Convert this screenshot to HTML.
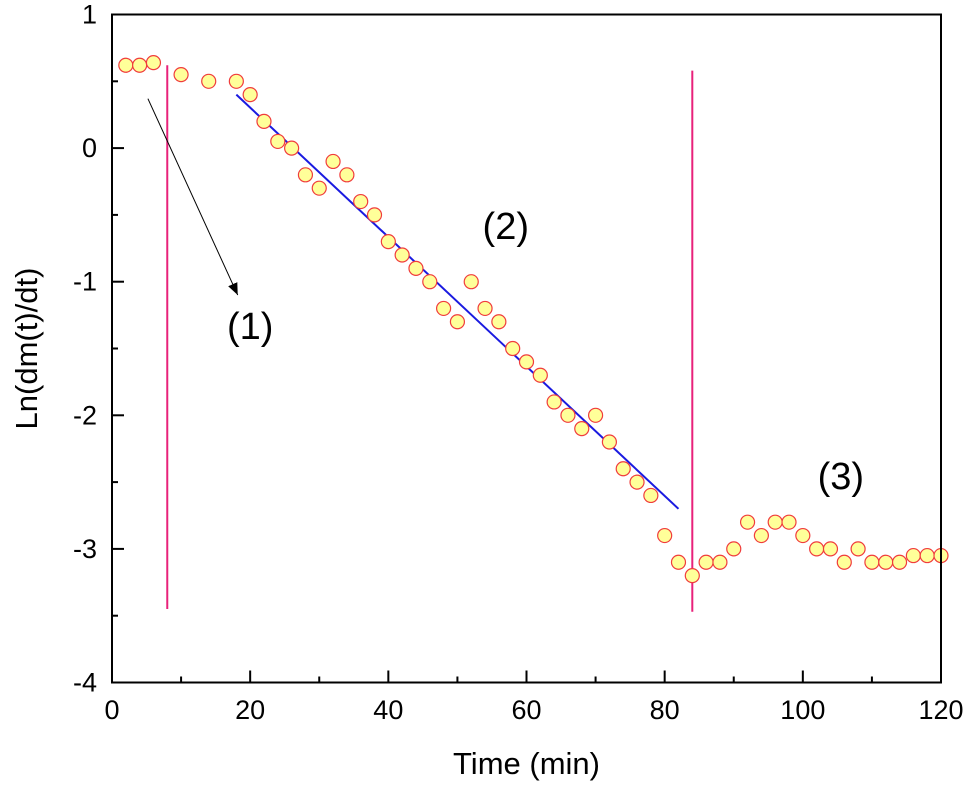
<!DOCTYPE html>
<html><head><meta charset="utf-8"><style>body{margin:0;background:#fff}svg text{font-family:"Liberation Sans",Arial,sans-serif}</style></head>
<body>
<svg id="c" width="967" height="784" viewBox="0 0 967 784"></svg>
<script>
const times=[2,4,6,10,14,18,20,22,24,26,28,30,32,34,36,38,40,42,44,46,48,50,52,54,56,58,60,62,64,66,68,70,72,74,76,78,80,82,84,86,88,90,92,94,96,98,100,102,104,106,108,110,112,114,116,118,120];
const values=[0.62,0.62,0.64,0.55,0.5,0.5,0.4,0.2,0.05,0,-0.2,-0.3,-0.1,-0.2,-0.4,-0.5,-0.7,-0.8,-0.9,-1.0,-1.2,-1.3,-1.0,-1.2,-1.3,-1.5,-1.6,-1.7,-1.9,-2.0,-2.1,-2.0,-2.2,-2.4,-2.5,-2.6,-2.9,-3.1,-3.2,-3.1,-3.1,-3.0,-2.8,-2.9,-2.8,-2.8,-2.9,-3.0,-3.0,-3.1,-3.0,-3.1,-3.1,-3.1,-3.05,-3.05,-3.05];
const xTicks=[0,20,40,60,80,100,120];
const yTicks=[1,0,-1,-2,-3,-4];
const fitLine=[[18,0.4],[82,-2.7]];
const dividers=[[8,0.62,-3.45],[84,0.58,-3.47]];
const arrow=[[5.2,0.37],[18.2,-1.1]];
const regionLabels=[["(1)",20,-1.43],["(2)",57,-0.68],["(3)",105.5,-2.55]];
const X0=112,X1=941,Y0=14.5,Y1=682.5;
const sx=v=>X0+(v-0)/120*(X1-X0);
const sy=v=>Y0+(1-v)/5*(Y1-Y0);
const svg=document.getElementById('c');const NS='http://www.w3.org/2000/svg';
function mk(t,a,p){const e=document.createElementNS(NS,t);for(const k in a)e.setAttribute(k,a[k]);(p||svg).appendChild(e);return e;}
const defs=mk('defs',{});
const mkr=mk('marker',{id:'ah',markerWidth:12,markerHeight:10,refX:12,refY:5,orient:'auto',markerUnits:'userSpaceOnUse'},defs);
mk('path',{d:'M0,0 L12,5 L0,10 Z',fill:'#000'},mkr);
dividers.forEach(d=>{const l=mk('line',{x1:sx(d[0]),x2:sx(d[0]),y1:sy(d[1]),y2:sy(d[2]),stroke:'#e8217a','stroke-width':2});

});
const fl=mk('line',{x1:sx(fitLine[0][0]),y1:sy(fitLine[0][1]),x2:sx(fitLine[1][0]),y2:sy(fitLine[1][1]),stroke:'#1a1ae0','stroke-width':2});


const ar=mk('line',{x1:sx(arrow[0][0]),y1:sy(arrow[0][1]),x2:sx(arrow[1][0]),y2:sy(arrow[1][1]),stroke:'#000','stroke-width':1,'marker-end':'url(#ah)'});


times.forEach((t,i)=>{const c=mk('circle',{cx:sx(t),cy:sy(values[i]),r:7,fill:'#ffff99',stroke:'#f03c3c','stroke-width':1.2});

});
const fr=mk('rect',{x:X0,y:Y0,width:X1-X0,height:Y1-Y0,fill:'none',stroke:'#000','stroke-width':2});


for(let v=0;v<=120;v+=10){const maj=v%20===0;mk('line',{x1:sx(v),x2:sx(v),y1:Y1,y2:Y1-(maj?12:6),stroke:'#000','stroke-width':2});}
xTicks.forEach(v=>{const t=mk('text',{x:sx(v),y:719,'text-anchor':'middle','font-size':27});t.textContent=v;

});
for(let v=-4;v<=1;v+=0.5){const maj=Number.isInteger(v);mk('line',{x1:X0,x2:X0+(maj?12:6),y1:sy(v),y2:sy(v),stroke:'#000','stroke-width':2});}
yTicks.forEach(v=>{const t=mk('text',{x:97,y:sy(v)+9,'text-anchor':'end','font-size':27});t.textContent=v;

});
regionLabels.forEach(r=>{const t=mk('text',{x:sx(r[1]),y:sy(r[2]),'text-anchor':'middle','font-size':38});t.textContent=r[0];

});
const xt=mk('text',{x:(X0+X1)/2,y:774,'text-anchor':'middle','font-size':31});xt.textContent='Time (min)';


const yt=mk('text',{x:0,y:0,'text-anchor':'middle','font-size':31,transform:`translate(37,${(Y0+Y1)/2}) rotate(-90)`});yt.textContent='Ln(dm(t)/dt)';


</script>
</body></html>
